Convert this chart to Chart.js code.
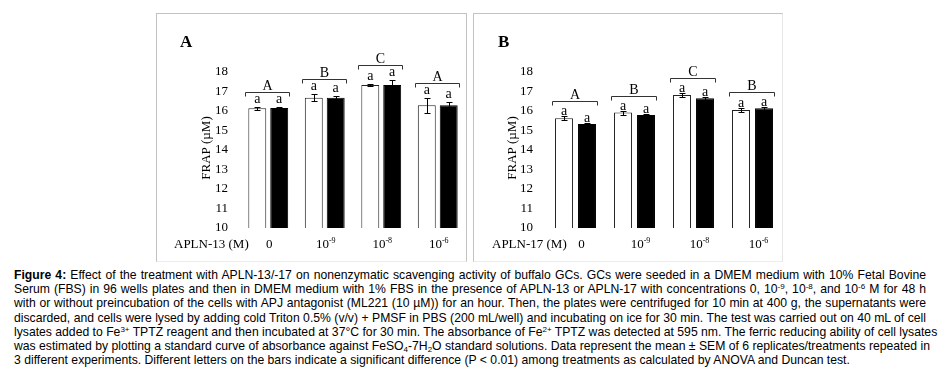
<!DOCTYPE html>
<html><head><meta charset="utf-8">
<script src="https://cdn.jsdelivr.net/npm/chart.js@4"></script>
<style>
html,body{margin:0;padding:0;background:#fff;}
body{width:946px;height:383px;position:relative;overflow:hidden;}
.frame{position:absolute;top:13px;height:249px;box-sizing:border-box;border:1px solid #c2c2c2;border-bottom-color:#ececec;}
#frameA{left:156px;width:311px;}
#frameB{left:473px;width:310px;border-right-color:#e6e6e6;}
.cv{position:absolute;top:13px;width:310px;height:248px;}
#wrapA{left:156px;} #wrapB{left:473px;}
#caption{position:absolute;left:14px;top:268px;width:912px;font-family:"Liberation Sans",Arial,sans-serif;font-size:12.2px;line-height:14.2px;color:#000;}
#caption div{text-align:justify;text-align-last:justify;white-space:nowrap;}
#caption div.last{text-align-last:left;}
#caption sup,#caption sub{font-size:8px;line-height:0;}
#caption sup{vertical-align:4px;} #caption sub{vertical-align:-2px;}
</style></head>
<body>
<div class="frame" id="frameA"></div>
<div class="frame" id="frameB"></div>
<div class="cv" id="wrapA"><canvas id="chartA" width="310" height="248"></canvas></div>
<div class="cv" id="wrapB"><canvas id="chartB" width="310" height="248"></canvas></div>
<div id="caption">
<div><b>Figure 4:</b> Effect of the treatment with APLN-13/-17 on nonenzymatic scavenging activity of buffalo GCs. GCs were seeded in a DMEM medium with 10% Fetal Bovine</div>
<div>Serum (FBS) in 96 wells plates and then in DMEM medium with 1% FBS in the presence of APLN-13 or APLN-17 with concentrations 0, 10<sup>-9</sup>, 10<sup>-8</sup>, and 10<sup>-6</sup> M for 48 h</div>
<div>with or without preincubation of the cells with APJ antagonist (ML221 (10 µM)) for an hour. Then, the plates were centrifuged for 10 min at 400 g, the supernatants were</div>
<div>discarded, and cells were lysed by adding cold Triton 0.5% (v/v) + PMSF in PBS (200 mL/well) and incubating on ice for 30 min. The test was carried out on 40 mL of cell</div>
<div>lysates added to Fe<sup>3+</sup> TPTZ reagent and then incubated at 37°C for 30 min. The absorbance of Fe<sup>2+</sup> TPTZ was detected at 595 nm. The ferric reducing ability of cell lysates</div>
<div>was estimated by plotting a standard curve of absorbance against FeSO<sub>4</sub>-7H<sub>2</sub>O standard solutions. Data represent the mean ± SEM of 6 replicates/treatments repeated in</div>
<div class="last">3 different experiments. Different letters on the bars indicate a significant difference (P &lt; 0.01) among treatments as calculated by ANOVA and Duncan test.</div>
</div>
<script>
// ---- data ----
const categories = ['0', '10^-9', '10^-8', '10^-6'];
const tickBase = ['0', '10', '10', '10'];
const tickExp = ['', '-9', '-8', '-6'];
const yTicks = [10, 11, 12, 13, 14, 15, 16, 17, 18];

// Panel A: APLN-13
const a13White = [16.14, 16.68, 17.33, 16.30];
const a13Black = [16.15, 16.68, 17.33, 16.30];
const a13WhiteErr = [0.08, 0.19, 0.07, 0.38];
const a13BlackErr = [0.07, 0.08, 0.28, 0.14];
const a13Groups = ['A', 'B', 'C', 'A'];
const a13BarLetters = ['a', 'a', 'a', 'a'];

// Panel B: APLN-17
const b17White = [15.63, 15.92, 16.82, 16.05];
const b17Black = [15.33, 15.80, 16.65, 16.14];
const b17WhiteErr = [0.11, 0.10, 0.08, 0.12];
const b17BlackErr = [0.07, 0.07, 0.07, 0.08];
const b17Groups = ['A', 'B', 'C', 'B'];
const b17BarLetters = ['a', 'a', 'a', 'a'];

const SERIF = '"Liberation Serif","Times New Roman",serif';

function makeChart(id, cfg) {
  const annot = {
    id: 'annot' + id,
    afterDatasetsDraw(chart) {
      const ctx = chart.ctx;
      const y = chart.scales.y;
      const errs = [cfg.wErr, cfg.bErr];
      const tops = categories.map(() => []);
      ctx.save();
      ctx.strokeStyle = '#000';
      ctx.fillStyle = '#000';
      ctx.lineWidth = 1;
      [0, 1].forEach(di => {
        const meta = chart.getDatasetMeta(di);
        const data = chart.data.datasets[di].data;
        meta.data.forEach((el, j) => {
          const x = Math.round(el.x) + 0.5;
          const yt = Math.round(y.getPixelForValue(data[j] + errs[di][j])) + 0.5;
          const yb = Math.round(y.getPixelForValue(data[j] - errs[di][j])) + 0.5;
          ctx.strokeStyle = '#000';
          ctx.beginPath();
          ctx.moveTo(x, yt); ctx.lineTo(x, yb);
          ctx.moveTo(x - 3, yt); ctx.lineTo(x + 3, yt);
          ctx.moveTo(x - 3, yb); ctx.lineTo(x + 3, yb);
          ctx.stroke();
          // bar letter
          ctx.font = '14px ' + SERIF;
          ctx.textAlign = 'center';
          ctx.textBaseline = 'alphabetic';
          const base = yt - cfg.letterGap;
          ctx.fillText(cfg.barLetters[j], el.x, base);
          tops[j].push({ yt, left: el.x - el.width / 2, right: el.x + el.width / 2 });
        });
      });
      // brackets & group letters
      tops.forEach((t, j) => {
        const minTop = Math.min(t[0].yt, t[1].yt);
        const by = Math.round(minTop - 16) + 0.5;
        const xl = Math.round(t[0].left - 3) + 0.5;
        const xr = Math.round(t[1].right + 1) + 0.5;
        ctx.strokeStyle = '#333';
        ctx.beginPath();
        ctx.moveTo(xl, by + 4); ctx.lineTo(xl, by); ctx.lineTo(xr, by); ctx.lineTo(xr, by + 4);
        ctx.stroke();
        ctx.font = '14px ' + SERIF;
        ctx.textAlign = 'center';
        ctx.textBaseline = 'alphabetic';
        ctx.fillText(cfg.groups[j], (xl + xr) / 2, by - 3);
      });
      ctx.restore();
    },
    afterDraw(chart) {
      const ctx = chart.ctx;
      const x = chart.scales.x;
      ctx.save();
      ctx.fillStyle = '#000';
      // panel letter
      ctx.font = 'bold 17px ' + SERIF;
      ctx.textAlign = 'left';
      ctx.textBaseline = 'middle';
      ctx.fillText(cfg.panel, cfg.panelX, 30);
      // y title
      ctx.save();
      ctx.translate(cfg.yTitleX, 135);
      ctx.rotate(-Math.PI / 2);
      ctx.font = '13px ' + SERIF;
      ctx.textAlign = 'center';
      ctx.textBaseline = 'middle';
      ctx.fillText('FRAP (µM)', 0, 0);
      ctx.restore();
      // x axis name
      ctx.font = '13px ' + SERIF;
      ctx.textAlign = 'left';
      ctx.textBaseline = 'alphabetic';
      const baseY = 235;
      ctx.fillText(cfg.xName, cfg.xNameX, baseY);
      // category tick labels
      categories.forEach((c, j) => {
        const cx = x.getPixelForValue(j) + cfg.tickShift;
        ctx.font = '13px ' + SERIF;
        const w1 = ctx.measureText(tickBase[j]).width;
        ctx.font = '8px ' + SERIF;
        const w2 = tickExp[j] ? ctx.measureText(tickExp[j]).width : 0;
        const start = cx - (w1 + w2) / 2;
        ctx.font = '13px ' + SERIF;
        ctx.textAlign = 'left';
        ctx.fillText(tickBase[j], start, baseY);
        if (tickExp[j]) {
          ctx.font = '8px ' + SERIF;
          ctx.fillText(tickExp[j], start + w1, baseY - 5);
        }
      });
      ctx.restore();
    }
  };
  return new Chart(document.getElementById(id), {
    type: 'bar',
    data: {
      labels: categories,
      datasets: [
        { data: cfg.white, backgroundColor: '#fff', borderColor: '#222', borderWidth: 1, borderSkipped: false,
          categoryPercentage: cfg.catPct, barPercentage: cfg.barPct },
        { data: cfg.black, backgroundColor: '#000', borderColor: '#000', borderWidth: 1, borderSkipped: false,
          categoryPercentage: cfg.catPct, barPercentage: cfg.barPct }
      ]
    },
    options: {
      responsive: false,
      animation: false,
      layout: { padding: { top: 59, bottom: 33, left: 0, right: cfg.padRight } },
      plugins: { legend: { display: false }, tooltip: { enabled: false }, title: { display: false } },
      scales: {
        x: { display: false, offset: true },
        y: {
          min: 10, max: 18,
          afterBuildTicks(s) { s.ticks = yTicks.map(v => ({ value: v })); },
          ticks: { font: { family: SERIF, size: 13 }, color: '#000', padding: cfg.tickPad },
          grid: { display: false, drawTicks: false },
          border: { display: false },
          afterFit(s) { s.width = cfg.yWidth; }
        }
      }
    },
    plugins: [annot]
  });
}

makeChart('chartA', {
  white: a13White, black: a13Black, wErr: a13WhiteErr, bErr: a13BlackErr,
  groups: a13Groups, barLetters: a13BarLetters, letterGap: 5,
  catPct: 0.776, barPct: 0.818, yWidth: 84, tickPad: 12, padRight: 0,
  panel: 'A', panelX: 24, yTitleX: 51, xName: 'APLN-13 (M)', xNameX: 18, tickShift: 1
});
makeChart('chartB', {
  white: b17White, black: b17Black, wErr: b17WhiteErr, bErr: b17BlackErr,
  groups: b17Groups, barLetters: b17BarLetters, letterGap: 2,
  catPct: 0.78, barPct: 0.78, yWidth: 73, tickPad: 13, padRight: 1,
  panel: 'B', panelX: 25, yTitleX: 40, xName: 'APLN-17 (M)', xNameX: 19, tickShift: 6
});
</script>
</body></html>
